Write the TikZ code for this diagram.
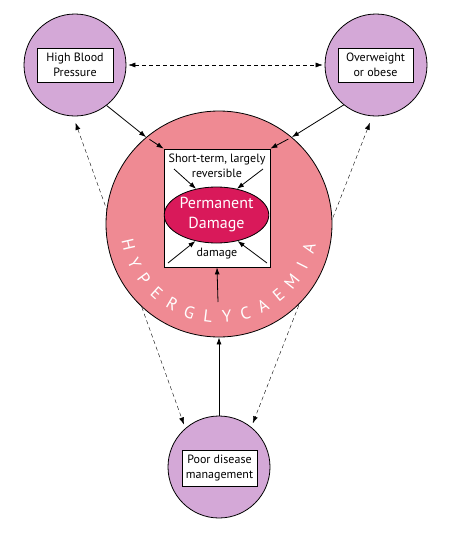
\documentclass[tikz,border=0pt]{standalone}
\usepackage{fontspec}
\setmainfont{PT Sans}
\usetikzlibrary{arrows.meta,shapes.geometric,backgrounds}
\definecolor{lilac}{HTML}{D4A8D7}
\definecolor{hypink}{HTML}{EF8A93}
\definecolor{crimson}{HTML}{D9195A}
\tikzset{
  risk/.style={circle, draw, fill=lilac, minimum size=102pt, inner sep=0pt},
  tag/.style={draw, fill=white, align=center, inner sep=0pt, font=\fontsize{12}{15}\selectfont},
  txt/.style={align=center, inner sep=0pt, font=\fontsize{12}{15}\selectfont},
  arcletter/.style={text=white, inner sep=0pt, font=\fontsize{17}{17}\selectfont},
  link/.style={dashed, dash pattern=on 4pt off 3pt, <->}
}
\begin{document}
\begin{tikzpicture}[x=1pt, y=1pt, line width=0.8pt, >={Latex[length=7pt,width=5pt]}]
	\useasboundingbox (0,0) rectangle (450,-536);
	\node[risk] (hbp) at (75,-65) {};
	\node[risk] (ob) at (376,-65) {};
	\node[risk] (pdm) at (219,-467) {};
	\node[tag, minimum width=76pt, minimum height=34pt] (hbpt) at (75,-65) {High Blood\\Pressure};
	\node[tag, minimum width=75pt, minimum height=34pt] (obt) at (375.5,-65) {Overweight\\or obese};
	\node[tag, minimum width=75pt, minimum height=36pt] (pdmt) at (219.5,-468) {Poor disease\\management};
	\node[circle, draw, fill=hypink, minimum size=226pt, inner sep=0pt] (hyp) at (219,-224) {};
	\node[draw, fill=white, minimum width=106pt, minimum height=118pt] (core) at (217,-208) {};
	\node[ellipse, draw, fill=crimson, minimum width=95pt, minimum height=56pt, inner sep=0pt,
		text=white, align=center, font=\fontsize{16}{20}\selectfont] (perm) at (216.5,-215) {Permanent\\Damage};
	\node[txt] (st) at (217,-166) {Short-term, largely\\reversible};
	\node[txt] (dm) at (217,-254) {damage};
	\foreach \ch [count=\i from 0, evaluate=\i as \ang using 193+11.69*\i] in {H,Y,P,E,R,G,L,Y,C,A,E,M,I,A}
		\node[arcletter, rotate=\ang+90] (hy\i) at ([shift={(\ang:93)}]hyp.center) {\ch};
	\coordinate (stl) at (174,-169);
	\coordinate (str) at (263,-169);
	\coordinate (dml) at (168,-263);
	\coordinate (dmr) at (267,-263);
	\coordinate (up) at (218,-302);
	\draw[->] (hbp.-52) -- (hyp.130);
	\draw[->] (ob.231) -- (hyp.50);
	\draw[->, shorten <=4pt] (hyp.130) -- (core.north west);
	\draw[->, shorten <=4pt] (hyp.50) -- (core.north east);
	\draw[->] (stl) -- (perm.128);
	\draw[->] (str) -- (perm.52);
	\draw[->] (dml) -- (perm.231);
	\draw[->] (dmr) -- (perm.-51);
	\draw[->] (up) -- (core.south);
	\draw[->] (pdm) -- (hyp);
	\begin{pgfonlayer}{background}
		\draw[link, shorten <=2pt, shorten >=2pt] (hbp) -- (ob);
		\draw[link, shorten <=7pt, shorten >=4pt] (hbp.-92) -- (pdm.131);
		\draw[link, shorten <=7pt, shorten >=4pt] (ob.-94) -- (pdm.51);
	\end{pgfonlayer}
\end{tikzpicture}
\end{document}
